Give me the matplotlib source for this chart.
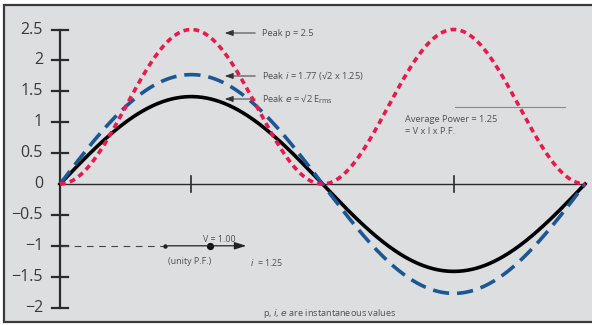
import numpy as np
import matplotlib.pyplot as plt
from matplotlib.patches import Rectangle

plt.rcParams['font.family'] = ['Open Sans', 'DejaVu Sans']

# waveform values (one cycle, degrees)
deg = np.linspace(0, 360, 721)
e_peak = 1.414
i_peak = 1.77
p_peak = 2.5
e = e_peak * np.sin(np.radians(deg))
i = i_peak * np.sin(np.radians(deg))
p = p_peak * np.sin(np.radians(deg)) ** 2
avg_power = 1.25

y_ticks = [-2, -1.5, -1, -0.5, 0, 0.5, 1, 1.5, 2, 2.5]
y_labels = ['\u22122', '\u22121.5', '\u22121', '\u22120.5', '0', '0.5', '1', '1.5', '2', '2.5']
x_ticks = [90, 270]

W, H = 592, 325
X0, X1 = 60, 585      # pixel span of 0..360 deg
Y0, SY = 184, 61.8    # pixel row of y=0, pixels per unit


def P(px, py):
    return (px - X0) / (X1 - X0) * 360, (Y0 - py) / SY


def PX(px):
    return P(px, 0)[0]


fig = plt.figure(figsize=(W / 100, H / 100), dpi=100)
fig.patch.set_facecolor('white')
ax = fig.add_axes([0, 0, 1, 1])
ax.set_facecolor('none')
ax.set_xlim(PX(0), PX(W))
ax.set_ylim(P(0, H)[1], P(0, 0)[1])
ax.axis('off')
ax.add_patch(Rectangle((4 / W, 1 - 322 / H), 1, (322 - 5) / H,
                       transform=fig.transFigure, facecolor='#dddee0',
                       edgecolor='#3a3a3a', lw=1.6, zorder=0, clip_on=False))

axc = '#2b2b2b'
# y axis with crossing ticks
ax.plot([0, 0], [y_ticks[0], y_ticks[-1]], color=axc, lw=1.6, zorder=2)
hw = 8 / (X1 - X0) * 360
for t, lab in zip(y_ticks, y_labels):
    if t != 0:
        ax.plot([-hw, hw], [t, t], color=axc, lw=1.6, zorder=2)
    ax.text(PX(43), t, lab, ha='right', va='center', fontsize=11.5,
            color='#3a3a3a')

# x axis
ax.plot([0, 360], [0, 0], color=axc, lw=1.0, zorder=2)
for t in x_ticks:
    ax.plot([t, t], [-0.13, 0.13], color=axc, lw=1.2, zorder=2)

# waveforms
ax.plot(deg, e, color='black', lw=2.6, zorder=3)
ax.plot(deg, i, color='#1c5793', lw=2.6, dashes=(4.5, 2.2), zorder=4)
ax.plot(deg, p, color='#e8194f', lw=2.6, dashes=(1.6, 1.2), zorder=5)

tc = '#505050'
fs = 6.7
arrow = dict(arrowstyle='-|>,head_length=0.5,head_width=0.18', color='#333333', lw=0.7)
notes = [(33, 'Peak p = 2.5'),
         (76, 'Peak $\\it{i}$ = 1.77 (\u221a2 x 1.25)'),
         (99, 'Peak $\\it{e}$ = \u221a2 E$_{\\rm rms}$')]
for py, txt in notes:
    ax.annotate('', xy=P(222, py), xytext=P(258, py), arrowprops=arrow)
    ax.text(*P(262, py), txt, fontsize=fs, color=tc, va='center')

# average power line and note
ax.plot([PX(455), PX(565)], [avg_power, avg_power], color='#888888', lw=0.8)
ax.text(*P(405, 119), 'Average Power = 1.25', fontsize=fs, color=tc, va='center')
ax.text(*P(405, 131), '= V x I x P.F.', fontsize=fs, color=tc, va='center')

# phasor sketch at unity power factor
ax.plot([PX(62), PX(165)], [-1, -1], color='#444444', lw=0.8, dashes=(6, 5))
ax.annotate('', xy=(PX(249), -1), xytext=(PX(165), -1),
            arrowprops=dict(arrowstyle='-|>,head_length=0.7,head_width=0.22',
                            color='#222222', lw=0.9))
ax.plot(PX(165), -1, 'o', color='#222222', ms=2.2)
ax.plot(PX(210), -1, 'o', color='#111111', ms=4.2)
ax.text(*P(219, 240), 'V = 1.00', fontsize=6.4, color=tc, ha='center', va='center')
ax.text(*P(190, 262), '(unity P.F.)', fontsize=6.4, color=tc, ha='center', va='center')
ax.text(*P(250, 262), '$\\it{i}$  = 1.25', fontsize=6.4, color=tc, va='center')

ax.text(*P(263, 313), 'p, $\\it{i}$, $\\it{e}$ are instantaneous values', fontsize=6.6,
        color=tc, va='center')

fig.savefig('out.png', dpi=100, facecolor='white')
